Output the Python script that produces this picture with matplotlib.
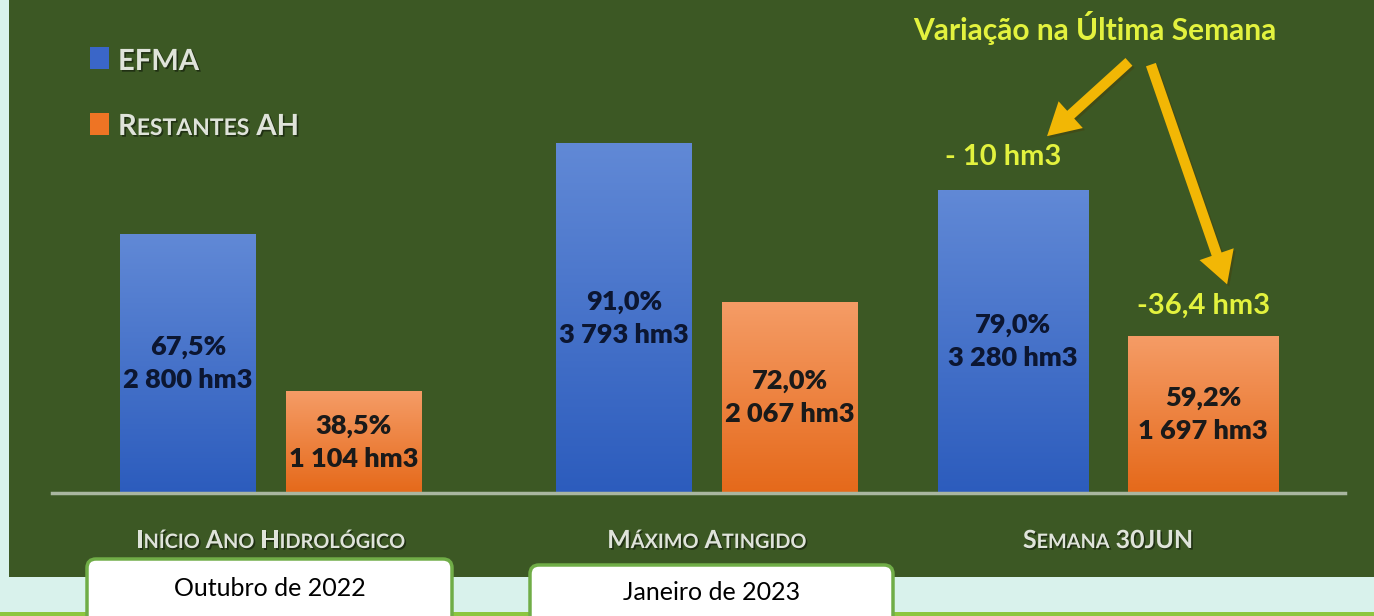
import numpy as np
import matplotlib
matplotlib.use("Agg")
import matplotlib.pyplot as plt
from matplotlib.patches import Rectangle, FancyBboxPatch, FancyArrowPatch
import matplotlib.patheffects as pe

# ============================================================
# DATA
# ============================================================
groups = ["Início Ano Hidrológico", "Máximo Atingido", "Semana 30JUN"]
efma_pct = [67.5, 91.0, 79.0]
efma_hm3 = [2800, 3793, 3280]
rest_pct = [38.5, 72.0, 59.2]
rest_hm3 = [1104, 2067, 1697]
var_labels = ["- 10 hm3", "-36,4 hm3"]   # variação na última semana (grupo 3)
box_labels = ["Outubro de 2022", "Janeiro de 2023"]

# layout (last group was pasted from another slide: a bit closer / wider)
group_x = [0.0, 1.0, 1.92]
bar_w = [0.31, 0.31, 0.345]
bar_off = [0.19, 0.19, 0.218]

# colours
MINT = "#d9f2ec"
PANEL = "#3c5824"
LIME = "#8dc63f"
BOX_EDGE = "#70ad47"
BLUE_TOP, BLUE_BOT = "#6189d6", "#2c5cbd"
ORNG_TOP, ORNG_BOT = "#f59c66", "#e5691a"
YELLOW = "#e3f23e"
ARROW = "#f2b705"
LIGHT = "#dfe3da"

FONT = "Lato"
W, H = 1374, 616

fig = plt.figure(figsize=(W / 100, H / 100), dpi=100)
fig.patch.set_facecolor(MINT)

# background axes in pixel coordinates
bg = fig.add_axes([0, 0, 1, 1], zorder=0)
bg.set_xlim(0, W)
bg.set_ylim(H, 0)
bg.axis("off")
bg.add_patch(Rectangle((9, 0), W - 9, 577, color=PANEL, lw=0))
bg.add_patch(Rectangle((0, 612), W, 5, color=LIME, lw=0))

# chart axes, mapped so the bars land on the reference pixels
ax = fig.add_axes([0, 0, 1, 1], zorder=1)
ax.patch.set_alpha(0)
ax.axis("off")

# overlay axes in pixel coordinates
top = fig.add_axes([0, 0, 1, 1], zorder=2)
top.patch.set_alpha(0)
top.set_xlim(0, W)
top.set_ylim(H, 0)
top.axis("off")


def gradient_bar(x, h, w, c_top, c_bot):
    ax.bar(x, h, width=w, color=c_bot, lw=0, zorder=2)
    grad = np.linspace(0, 1, 256).reshape(-1, 1)
    cmap = matplotlib.colors.LinearSegmentedColormap.from_list("g", [c_bot, c_top])
    ax.imshow(grad, extent=[x - w / 2, x + w / 2, 0, h], aspect="auto",
              cmap=cmap, zorder=3, origin="lower")


def fmt_pct(p):
    return f"{p:.1f}".replace(".", ",") + "%"


def fmt_hm3(v):
    return f"{v:,}".replace(",", " ") + " hm3"


for i in range(len(groups)):
    xe = group_x[i] - bar_off[i]
    xr = group_x[i] + bar_off[i]
    gradient_bar(xe, efma_hm3[i], bar_w[i], BLUE_TOP, BLUE_BOT)
    gradient_bar(xr, rest_hm3[i], bar_w[i], ORNG_TOP, ORNG_BOT)
    ax.text(xe, efma_hm3[i] / 2, fmt_pct(efma_pct[i]) + "\n" + fmt_hm3(efma_hm3[i]),
            ha="center", va="center", fontsize=19.5, fontweight="heavy",
            family=FONT, color="#0c1631", linespacing=1.45, zorder=5)
    ax.text(xr, rest_hm3[i] / 2, fmt_pct(rest_pct[i]) + "\n" + fmt_hm3(rest_hm3[i]),
            ha="center", va="center", fontsize=19.5, fontweight="heavy",
            family=FONT, color="#1a1a1a", linespacing=1.45, zorder=5)

ax.set_xlim(-0.621, 2.530)
ax.set_ylim(-1334, 5349)

# variation labels above last group
i = 2
ax.annotate(var_labels[0], (group_x[i] - bar_off[i], efma_hm3[i]), xytext=(-7, 24),
            textcoords="offset points", ha="center", va="center", fontsize=21,
            fontweight="bold", family=FONT, color=YELLOW)
ax.annotate(var_labels[1], (group_x[i] + bar_off[i], rest_hm3[i]), xytext=(0, 22),
            textcoords="offset points", ha="center", va="center", fontsize=21,
            fontweight="bold", family=FONT, color=YELLOW)

# baseline
ax.axhline(0, xmin=52 / W, xmax=1345 / W, color="#a9b6a0", lw=2.5, zorder=4)

shadow = [pe.withSimplePatchShadow(offset=(1.2, -1.2), shadow_rgbFace="black", alpha=0.45)]
renderer = fig.canvas.get_renderer()


def small_caps(cx, y, words, big, small, color, ha="center"):
    # words: list of (first_part_big, rest_small)
    texts = []
    for big_part, small_part in words:
        pieces = []
        if big_part:
            pieces.append(top.text(0, y, big_part, fontsize=big, color=color, family=FONT,
                                   fontweight="bold", va="baseline", ha="left",
                                   path_effects=shadow))
        if small_part:
            pieces.append(top.text(0, y, small_part, fontsize=small, color=color, family=FONT,
                                   fontweight="bold", va="baseline", ha="left",
                                   path_effects=shadow))
        texts.append(pieces)
    gap = big * 0.32
    widths = [[t.get_window_extent(renderer).width for t in p] for p in texts]
    total = sum(sum(w) for w in widths) + gap * (len(texts) - 1)
    x = cx - total / 2 if ha == "center" else cx
    for p, ws in zip(texts, widths):
        for t, w in zip(p, ws):
            t.set_x(x)
            x += w
        x += gap


# category labels (small caps)
cat_words = [
    [("I", "NÍCIO"), ("A", "NO"), ("H", "IDROLÓGICO")],
    [("M", "ÁXIMO"), ("A", "TINGIDO")],
    [("S", "EMANA"), ("30JUN", "")],
]
for i, words in enumerate(cat_words):
    cx = ax.transData.transform((group_x[i], 0))[0]
    small_caps(cx, 548, words, 18, 14.3, LIGHT)

# legend
top.add_patch(Rectangle((90, 47), 19, 22, color="#3a66c8", lw=0))
top.add_patch(Rectangle((90, 113), 19, 22, color="#ee7424", lw=0))
top.text(118, 70, "EFMA", fontsize=21, fontweight="bold", family=FONT, color=LIGHT,
         va="baseline", ha="left", path_effects=shadow)
small_caps(118, 135, [("R", "ESTANTES"), ("AH", "")], 21, 16.5, LIGHT, ha="left")

# title of the arrows
top.text(1095, 28, "Variação na Última Semana", fontsize=21.5, fontweight="bold",
         family=FONT, color=YELLOW, ha="center", va="center")
for start, tip in [((1131, 60), (1045, 138)), ((1150, 62), (1228, 287))]:
    top.add_patch(FancyArrowPatch(start, tip, arrowstyle="simple,head_length=2.3,head_width=2.6,tail_width=0.75",
                                  mutation_scale=10, color=ARROW, lw=0,
                                  path_effects=[pe.withSimplePatchShadow(offset=(1.5, -1.5), alpha=0.35)]))

# date boxes
for (x0, y0, x1), label, ty in zip([(87, 559, 452), (530, 565, 893)], box_labels, [588, 593]):
    top.add_patch(FancyBboxPatch((x0, y0), x1 - x0, 80,
                                 boxstyle="round,pad=0,rounding_size=9",
                                 fc="white", ec=BOX_EDGE, lw=2.5))
    top.text((x0 + x1) / 2, ty, label, fontsize=18, family=FONT, color="black",
             ha="center", va="center")

plt.savefig("out.png", dpi=100, facecolor=MINT)
